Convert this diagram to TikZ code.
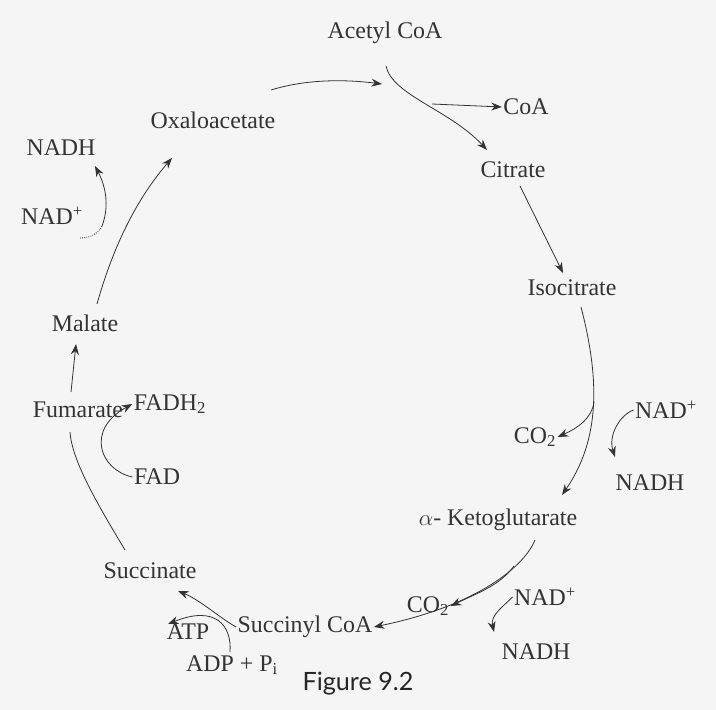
\documentclass[tikz,border=0pt]{standalone}
\usepackage{fontspec}
\setmainfont{Liberation Serif}
\newfontfamily\figfont{Lato}
\usetikzlibrary{arrows.meta}
\begin{document}
\begin{tikzpicture}[x=0.0265cm,y=-0.0265cm,
  lbl/.style={inner sep=1pt,font=\fontsize{18}{19}\selectfont,text=black!80},
  arr/.style={-{Stealth[length=8pt,width=6pt]},line width=0.6pt,black!80},
  ln/.style={line width=0.6pt,black!80}]
\fill[black!4] (0,0) rectangle (716,710);
\node[lbl] (acoa) at (385,33) {Acetyl CoA};
\node[lbl] (coa) at (526,107) {CoA};
\node[lbl] (oxa) at (213,120) {Oxaloacetate};
\node[lbl] (cit) at (513,170) {Citrate};
\node[lbl] (nadh1) at (61,148) {NADH};
\node[lbl] (nad1) at (52,216) {NAD\textsuperscript{+}};
\node[lbl] (iso) at (572,288) {Isocitrate};
\node[lbl] (mal) at (85,323) {Malate};
\node[lbl] (fum) at (78,410) {Fumarate};
\node[lbl] (co2a) at (535,437) {CO\textsubscript{2}};
\node[lbl] (nad2) at (666,410) {NAD\textsuperscript{+}};
\node[lbl] (nadh2) at (650,483) {NADH};
\node[lbl] (fadh) at (170,404) {FADH\textsubscript{2}};
\node[lbl] (fad) at (157,477) {FAD};
\node[lbl] (akg) at (498,520) {$\alpha$- Ketoglutarate};
\node[lbl] (succ) at (150,571) {Succinate};
\node[lbl] (co2b) at (428,606) {CO\textsubscript{2}};
\node[lbl] (nad3) at (545,597) {NAD\textsuperscript{+}};
\node[lbl] (nadh3) at (536,652) {NADH};
\node[lbl] (sucoa) at (305,627) {Succinyl CoA};
\node[lbl] (atp) at (188,632) {ATP};
\node[lbl] (adp) at (232,665) {ADP + P\textsubscript{i}};
\node[font=\figfont\fontsize{19}{20}\selectfont,text=black!85] (fig) at (358,684) {Figure 9.2};
\coordinate (br1) at (432,104);
\coordinate (br2) at (594,402);
\coordinate (br3) at (514,566);
\draw[arr] (271,90) .. controls (310,78) and (350,80) .. (382,84);
\draw[arr] (386,66) .. controls (392,95) and (450,110) .. (487,150);
\draw[arr] (br1) -- (coa.west);
\draw[arr] (520,186) -- (563,273);
\draw[arr] (581,307) .. controls (600,380) and (600,440) .. (562,495);
\draw[arr] (br2) .. controls (592,418) and (578,428) .. (co2a.east);
\draw[arr] (nad2.west) .. controls (620,415) and (608,435) .. (615,457);
\draw[arr] (535,540) .. controls (525,565) and (480,605) .. (sucoa.east);
\draw[arr] (br3) .. controls (500,585) and (480,592) .. (co2b.east);
\draw[arr] (nad3.west) .. controls (505,605) and (490,615) .. (494,632);
\draw[arr] (sucoa.west) .. controls (220,618) and (200,600) .. (178,591);
\draw[arr] (230,652) .. controls (232,625) and (215,605) .. (168,624);
\draw[ln] (125,550) .. controls (95,500) and (72,460) .. (70,432);
\draw[arr] (fad.west) .. controls (100,470) and (85,430) .. (fadh.west);
\draw[arr] (71,392) -- (76,344);
\draw[arr] (97,304) .. controls (115,240) and (140,195) .. (172,158);
\draw[ln,densely dotted] (80,238) .. controls (90,238) and (98,234) .. (102,226);
\draw[arr] (102,226) .. controls (110,205) and (105,185) .. (95,166);
\end{tikzpicture}
\end{document}
